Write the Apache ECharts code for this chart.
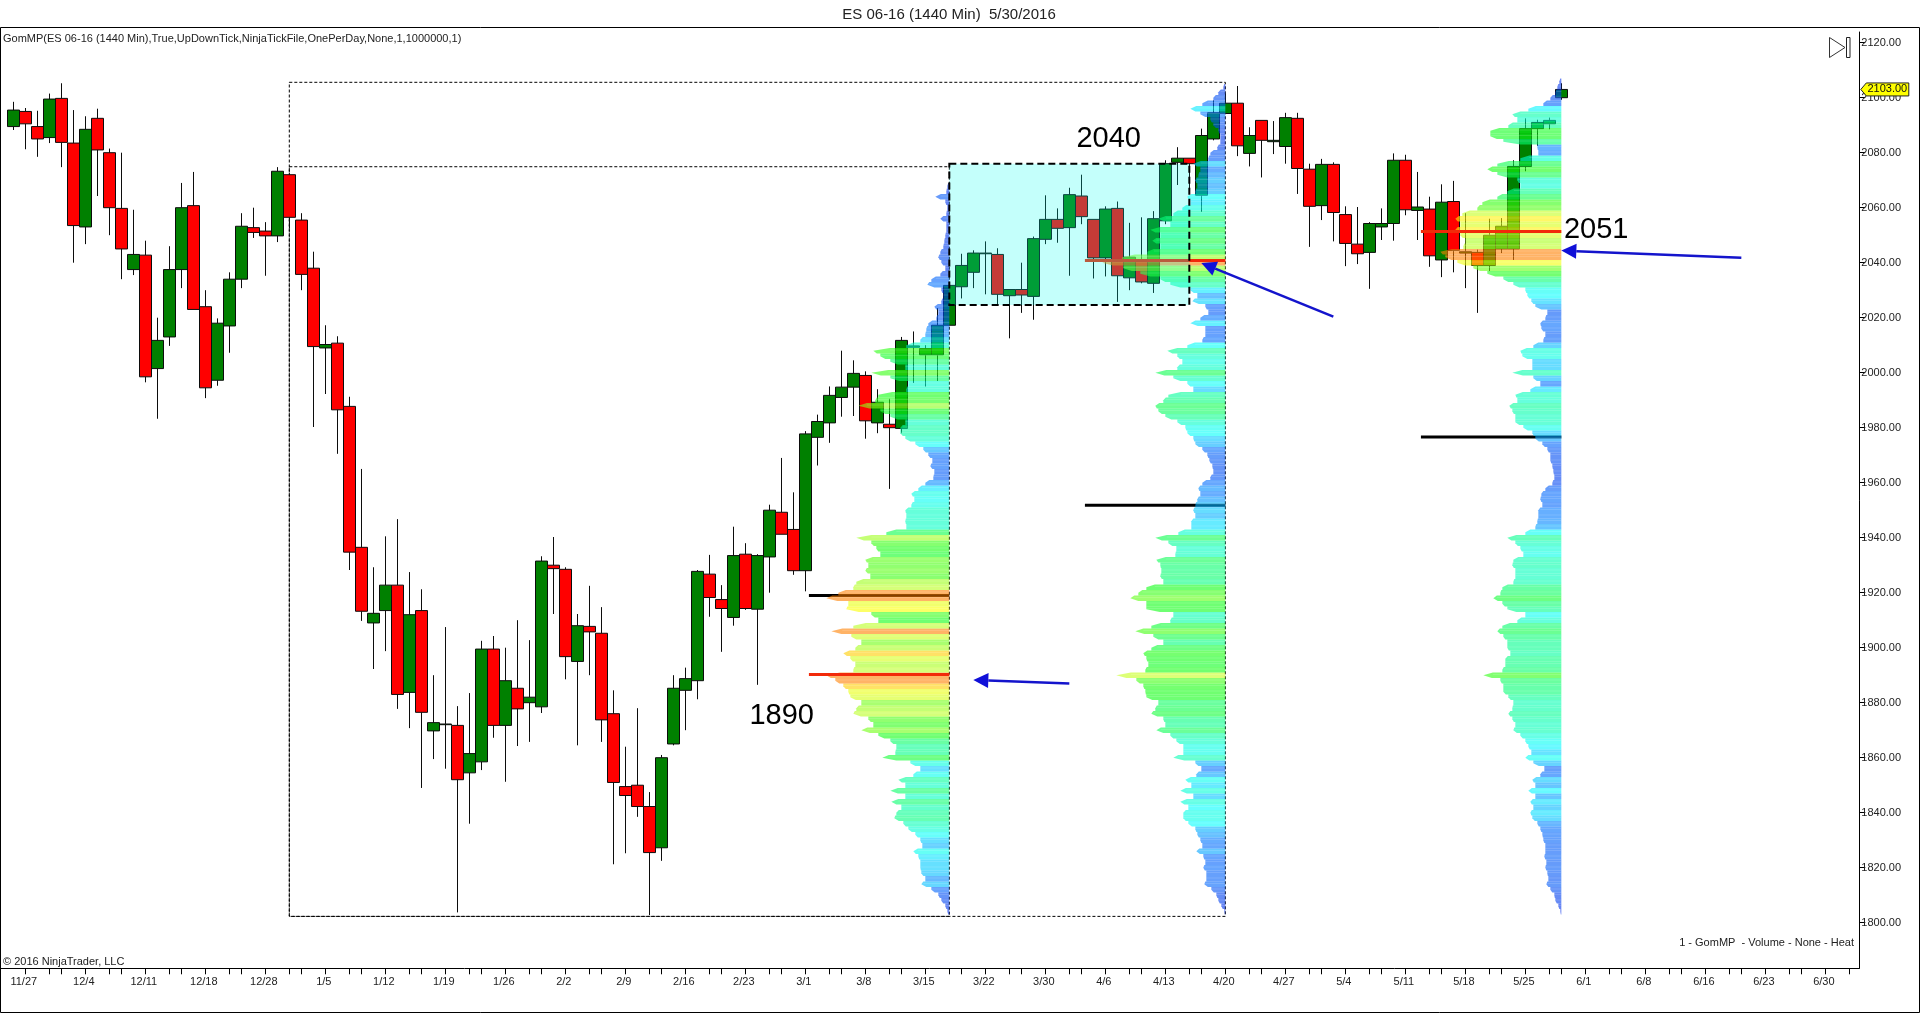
<!DOCTYPE html>
<html><head><meta charset="utf-8">
<script src="https://cdn.jsdelivr.net/npm/echarts@6/dist/echarts.min.js"></script>
<style>html,body{margin:0;padding:0;background:#fff}#c{width:1920px;height:1014px}</style>
</head><body><div id="c"></div>
<script>
// candle rows: [open, close, low, high]; the position in the list is the bar number
const candles = [
[2089.5,2095.5,2088.25,2098.5],[2095,2090.5,2081.25,2096.25],[2089.5,2085,2078.5,2095.25],[2085.5,2099.5,2083.5,2101.5],[2099.75,2083.75,2074.75,2105.25],
[2083.5,2053.5,2040,2095.5],[2053,2088.5,2046.75,2093.25],[2092.5,2081,2064.25,2096],[2080,2060,2050,2081.5],[2059.75,2045,2034,2080],
[2037.5,2043,2035.5,2059.25],[2042.75,1998.5,1996.5,2048],[2001.5,2011.75,1983.25,2020],[2013,2037.5,2009.75,2046],[2037.5,2060,2030.75,2069],
[2060.75,2023,2023,2073],[2024,1994.5,1990.75,2030],[1997.25,2018,1995.25,2019.75],[2017,2034,2007.25,2036.5],[2034,2053.25,2030.75,2058],
[2052.75,2051,2049,2060],[2051.5,2049.75,2035.25,2054.75],[2049.75,2073.25,2047.5,2074.75],[2072,2056.5,2052.5,2072.5],[2055.5,2035.75,2030,2058],
[2038,2009.5,1980.25,2044],[2009,2010.25,1992.25,2017.25],[2010.75,1986.5,1970.5,2013.25],[1987.75,1934.75,1928.25,1991.25],[1936.5,1913.25,1909.75,1965],
[1909,1912.5,1892.25,1929.25],[1913.5,1922.75,1898.75,1940.5],[1922.75,1883,1877.75,1946.75],[1883.75,1912,1870.75,1927.5],[1913.5,1876.5,1849,1921.25],
[1869.75,1872.75,1859.5,1890],[1872,1872.25,1856,1907.5],[1871.75,1852,1803.75,1878.75],[1854.5,1861.5,1836,1883.5],[1858.5,1899.5,1855.5,1902.5],
[1899.5,1871.75,1867.25,1904.25],[1871.75,1888,1851.25,1900],[1885.25,1877.75,1864.25,1910],[1880,1882,1865.75,1902.75],[1878.5,1931.5,1876.25,1933.25],
[1930,1928.75,1912.25,1940.25],[1928.5,1896.75,1888.5,1929.25],[1895,1908,1864.5,1912.25],[1907.75,1905.75,1890,1922.5],[1905.25,1873.75,1865.75,1914.75],
[1876,1851,1821.25,1884.5],[1849.5,1846.25,1825.25,1864],[1850,1842.25,1838.5,1878],[1842.25,1825.5,1802.75,1847.5],[1827.25,1860,1822.5,1861],
[1865,1885.25,1864.5,1890],[1884.5,1888.75,1870,1892.75],[1888,1927.75,1881.25,1928.25],[1926.75,1918.25,1911.25,1933.75],[1917.5,1914.25,1898.5,1922.75],
[1911,1933.5,1908,1944],[1934,1914.25,1913.75,1938],[1914,1933.5,1886.5,1934],[1933,1950,1920,1952],[1949.25,1941.25,1941.25,1969],
[1943,1928,1926.5,1956.5],[1928,1977.75,1920.5,1978.75],[1976.5,1982.25,1966.25,1984.75],[1981.75,1991.75,1974.5,1995],[1991,1994.75,1984,2008],
[1994.75,1999.75,1984.25,2004.5],[1999,1982.5,1976,2000.5],[1981.75,1989.25,1978,1994],[1981.25,1980,1957.75,1990.5],[1979.75,2011.75,1978,2013],
[2009.25,2009.75,1996.25,2015],[2006.5,2008.75,1995,2010],[2006.5,2017.25,1997,2023.5],[2017.25,2031.75,2017.25,2032.5],[2031.25,2039,2027,2043.25],
[2036.5,2043.5,2030.75,2044.5],[2043.25,2043.5,2028.5,2047.75],[2043,2028.5,2024.5,2045.25],[2028,2030.25,2012.5,2030.25],[2030.25,2028.25,2021.75,2040],
[2027.75,2048.75,2019.25,2049.5],[2048.5,2055.75,2046.75,2064.5],[2055.75,2052.5,2047.25,2059.75],[2052.75,2064.75,2035.25,2067.25],[2064.25,2056.75,2054,2072],
[2055.75,2041.75,2034.25,2055.75],[2041.75,2059.5,2035,2060.5],[2059.75,2035.25,2025.75,2062.25],[2034.5,2042,2030,2054.5],[2041,2033,2032.5,2056.5],
[2032.5,2056,2029,2058.75],[2055.25,2076,2054,2077.25],[2076.5,2078,2068.25,2082],[2078,2076,2066.5,2078],[2064.5,2086.25,2058.5,2088.75],
[2085,2094.5,2084.5,2099],[2094.25,2098,2094.25,2101.5],[2098,2082.5,2078.75,2104.25],[2079.75,2086.25,2075,2089.25],[2091.75,2084.5,2071,2091.75],
[2084,2084.5,2079.5,2091.5],[2082.25,2092.75,2076,2094.5],[2092.5,2074.25,2065,2094.5],[2074,2060.5,2045.75,2076],[2060.75,2075.75,2055.5,2077.75],
[2075.75,2058.25,2047.75,2076.5],[2057.5,2047,2038.75,2060.5],[2046.75,2043.25,2039.5,2060.25],[2043.75,2054.25,2030.5,2054.75],[2053,2054.25,2048.25,2059.75],
[2054.25,2077.25,2048,2079.75],[2077.25,2059.25,2057.25,2079.25],[2059,2060.25,2048.25,2073],[2059.5,2042.5,2038.5,2064],[2041,2062,2034.75,2068.5],
[2062.25,2044.5,2036.5,2069.75],[2043.5,2044,2030.75,2058],[2043.75,2039,2021.75,2044.75],[2039,2050,2037,2056],[2045,2053.25,2043.5,2056.25],
[2045,2075,2041,2077.25],[2075,2088.75,2073.25,2092.5],[2088.75,2091,2082.5,2092],[2090.5,2091.75,2088.5,2092.75],[2100,2103,2099.25,2105.25]
];
// date tick labels and the bar number each one sits on
const tickLabels = ['11/27','12/4','12/11','12/18','12/28','1/5','1/12','1/19','1/26','2/2','2/9','2/16','2/23','3/1','3/8','3/15','3/22','3/30','4/6','4/13','4/20','4/27','5/4','5/11','5/18','5/25','6/1','6/8','6/16','6/23','6/30'];
const tickBars = [1,6,11,16,21,26,31,36,41,46,51,56,61,66,71,76,81,86,91,96,101,106,111,116,121,126,131,136,141,146,151];
const priceTicks = [1800,1820,1840,1860,1880,1900,1920,1940,1960,1980,2000,2020,2040,2060,2080,2100,2120];
// volume profiles: one volume per 2-point price level, from profileStart upward
const profileStart = 1804, profileStep = 2;
const profile1 = [2,4,8,11,18,28,24,28,29,29,31,36,27,29,34,41,46,55,53,48,58,44,59,44,51,36,29,39,67,54,53,59,71,88,76,81,96,93,88,99,101,106,114,123,96,94,99,106,94,88,98,118,96,71,78,103,101,123,111,96,93,79,84,81,84,69,73,78,93,63,43,44,43,44,38,35,38,31,24,16,15,19,17,21,26,34,44,49,49,44,59,69,91,74,71,43,41,59,78,44,59,69,76,43,29,24,23,21,13,11,15,8,6,8,22,18,9,4,8,11,9,6,5,4,3,3,9,3,2,4,14,3,2];
const profile2 = [1,4,7,9,14,21,19,19,22,20,22,29,23,25,28,30,37,42,42,37,45,32,45,34,40,29,24,30,52,42,42,49,55,69,60,62,74,70,67,79,80,82,89,109,80,77,79,82,74,62,72,90,74,55,52,79,79,95,87,79,62,65,64,65,69,50,49,57,70,47,34,34,30,32,30,28,25,27,23,15,12,13,16,18,23,30,32,38,40,48,60,67,70,62,57,32,38,52,70,48,43,48,58,38,23,20,20,35,25,17,20,33,28,35,55,65,85,102,123,103,78,65,73,65,75,55,67,52,43,35,38,30,28,30,27,25,32,17,15,8,5,5,7,12,15,25,35,23,12,7,2];
const profile3 = [1,3,6,7,11,15,13,14,16,15,17,16,16,18,19,21,24,29,31,28,31,26,33,26,29,21,17,28,36,30,33,36,41,48,46,49,53,49,48,53,58,58,61,78,59,56,56,51,54,54,58,64,59,44,36,54,59,68,61,59,48,46,46,49,48,38,41,46,54,36,26,24,23,23,19,21,20,16,9,7,8,9,11,11,14,19,26,29,38,46,46,49,52,44,46,31,21,28,49,29,29,39,41,28,18,16,20,21,16,14,26,30,34,36,48,58,74,88,104,116,121,98,96,101,106,101,106,99,84,79,64,54,41,44,64,74,64,41,23,24,58,71,71,53,44,49,33,18,11,6,4,2];
const profileEdges = [78,101,129];
const profileHeatMax = [110,123,112];
// key level lines: [from bar, to bar, price]
const blackLevels = [[66.3,78,1919],[89.3,101,1951.8],[117.3,129,1976.6]];
const redLevels = [[66.3,78,1890.3],[89.3,101,2040.8],[117.3,129,2051.3]];
// dashed outlines: [from bar, to bar, low price, high price]
const thinBoxes = [[23,78,1802.3,2074.9],[23,101,1802.3,2105.6]];
const highlightBox = [[78,98,2024.6,2076]];
// arrows: [tail bar, tail price, tip bar, tip price]
const arrows = [[88,1887,80,1888.25],[110,2020.4,99,2039.9],[144,2041.8,129,2044.4]];
// big notes: [bar, price, text]
const notes = [[91.28,2085,'2040'],[64.03,1875,'1890'],[131.9,2052,'2051']];
const lastPrice = 2103;

const FONT = '"Liberation Sans",Arial,sans-serif';
const heatStops = [[0,[0,40,232]],[0.2,[0,113,255]],[0.3,[0,255,255]],[0.48,[0,255,144]],[0.65,[16,255,16]],[0.8,[112,255,16]],[0.88,[192,255,32]],[0.94,[255,255,0]],[1,[255,128,0]]];
function heat(t){
  t=Math.min(1,Math.max(0,t));
  for(let i=1;i<heatStops.length;i++){
    if(t<=heatStops[i][0]){
      const a=heatStops[i-1],b=heatStops[i],k=(t-a[0])/(b[0]-a[0]);
      const c=a[1].map((v,j)=>Math.round(v+(b[1][j]-v)*k));
      return 'rgb('+c.join(',')+')';
    }
  }
  return 'rgb(255,128,0)';
}
const volPerBar = 12; // profile volume units per bar width

function profileSeries(list,edge,heatMax){
  return {
    type:'custom',z:4,silent:true,clip:true,
    data:list.map((v,i)=>[profileStart+i*profileStep,v]),
    encode:{x:[],y:0},
    renderItem(p,api){
      const i=p.dataIndex,price=api.value(0),vol=api.value(1);
      const below=i>0?list[i-1]:0,above=i<list.length-1?list[i+1]:0;
      const xAt=v=>api.coord([edge-v/volPerBar,price])[0];
      const yTop=api.coord([edge,price+profileStep/2])[1],yMid=api.coord([edge,price])[1],yBot=api.coord([edge,price-profileStep/2])[1];
      const xr=xAt(0);
      const pts=[[xr,yTop],[xAt(Math.min(vol,(vol+above)/2)),yTop],[xAt(vol),yMid],[xAt(Math.min(vol,(vol+below)/2)),yBot],[xr,yBot]];
      const inner=xAt(Math.min(vol,(vol+above)/2));
      return {type:'group',children:[
        {type:'polygon',shape:{points:pts},style:{fill:heat(vol/heatMax),opacity:0.6}},
        {type:'rect',shape:{x:inner,y:yTop+1.5,width:xr-inner,height:1},style:{fill:'#ffffff',opacity:0.14}}
      ]};
    }
  };
}
function levelSeries(list,color,z){
  return {type:'custom',z,silent:true,clip:true,data:list,encode:{x:[0,1],y:2},
    renderItem(p,api){
      const a=api.coord([api.value(0),api.value(2)]),b=api.coord([api.value(1),api.value(2)]);
      return {type:'line',shape:{x1:a[0],y1:a[1],x2:b[0],y2:b[1]},style:{stroke:color,lineWidth:3}};
    }};
}
function outline(c0,c1,style){
  return {type:'rect',shape:{x:c0[0],y:c1[1],width:c1[0]-c0[0],height:c0[1]-c1[1]},style};
}
const xMin=-1.108,xMax=153.83;
const minorTicks=[];
tickBars.forEach(b=>{minorTicks.push(b,b+2,b+3);});

const option={
  animation:false,backgroundColor:'#ffffff',
  title:{text:'ES 06-16 (1440 Min)  5/30/2016',left:944,top:2,textAlign:'center',textStyle:{fontFamily:FONT,fontSize:15,fontWeight:'normal',color:'#222'}},
  grid:{left:0,right:60.7,top:32,bottom:45.7},
  xAxis:{type:'value',min:xMin,max:xMax,splitLine:{show:false},
    axisLine:{onZero:false,lineStyle:{color:'#000',width:1}},
    axisTick:{customValues:minorTicks.filter(v=>v<xMax),length:6,lineStyle:{color:'#000'}},
    axisLabel:{customValues:tickBars,margin:8,color:'#222',fontFamily:FONT,fontSize:11,padding:[0,3,0,0],
      formatter:v=>tickLabels[tickBars.indexOf(v)]||''}},
  yAxis:{type:'value',position:'right',min:1783.42,max:2123.89,splitLine:{show:false},
    axisLine:{show:true,onZero:false,lineStyle:{color:'#000',width:1}},
    axisTick:{show:true,customValues:priceTicks,length:6,lineStyle:{color:'#000'}},
    axisLabel:{customValues:priceTicks,margin:2,color:'#222',fontFamily:FONT,fontSize:11,
      formatter:v=>v.toFixed(2)}},
  series:[
    {type:'custom',z:1,silent:true,clip:true,data:thinBoxes,encode:{x:[0,1],y:[2,3]},
      renderItem(p,api){
        return outline(api.coord([api.value(0),api.value(2)]),api.coord([api.value(1),api.value(3)]),
          {fill:null,stroke:'#000',lineWidth:1,lineDash:[3,2]});
      }},
    {type:'candlestick',z:2,silent:true,barWidth:12,
      data:candles.map((c,i)=>[i,c[0],c[1],c[2],c[3]]),
      encode:{x:0,y:[1,2,3,4]},
      itemStyle:{color:'#008000',color0:'#ff0000',borderColor:'#0c0c0c',borderColor0:'#0c0c0c',borderColorDoji:'#0c0c0c',borderWidth:1}},
    levelSeries(blackLevels,'#000000',3),
    profileSeries(profile1,profileEdges[0],profileHeatMax[0]),
    profileSeries(profile2,profileEdges[1],profileHeatMax[1]),
    profileSeries(profile3,profileEdges[2],profileHeatMax[2]),
    levelSeries(redLevels,'#f22a0a',5),
    {type:'custom',z:6,silent:true,clip:true,data:highlightBox,encode:{x:[0,1],y:[2,3]},
      renderItem(p,api){
        const c0=api.coord([api.value(0),api.value(2)]),c1=api.coord([api.value(1),api.value(3)]);
        return {type:'group',children:[
          outline(c0,c1,{fill:'rgba(0,255,238,0.23)',stroke:null}),
          outline(c0,c1,{fill:null,stroke:'#000',lineWidth:2,lineDash:[7,4]})
        ]};
      }},
    {type:'custom',z:7,silent:true,clip:false,data:arrows,encode:{x:[0,2],y:[1,3]},
      renderItem(p,api){
        const t=api.coord([api.value(0),api.value(1)]),h=api.coord([api.value(2),api.value(3)]);
        const dx=h[0]-t[0],dy=h[1]-t[1],len=Math.hypot(dx,dy),ux=dx/len,uy=dy/len;
        const bx=h[0]-ux*15,by=h[1]-uy*15;
        return {type:'group',children:[
          {type:'line',shape:{x1:t[0],y1:t[1],x2:bx,y2:by},style:{stroke:'#1414cc',lineWidth:2.5}},
          {type:'polygon',shape:{points:[h,[bx-uy*7.5,by+ux*7.5],[bx+uy*7.5,by-ux*7.5]]},style:{fill:'#1010d8'}}
        ]};
      }},
    {type:'custom',z:8,silent:true,clip:false,data:notes.map(n=>n.slice(0,2)),encode:{x:0,y:1},
      renderItem(p,api){
        const c=api.coord([api.value(0),api.value(1)]);
        return {type:'text',style:{x:c[0],y:c[1],text:notes[p.dataIndex][2],fill:'#000',font:'29px '+FONT,textAlign:'center',textVerticalAlign:'middle'}};
      }},
    {type:'custom',z:9,silent:true,clip:false,data:[[xMax,lastPrice]],encode:{x:0,y:1},
      renderItem(p,api){
        const c=api.coord([api.value(0),api.value(1)]);
        const x=c[0],y=c[1];
        return {type:'group',children:[
          {type:'polygon',shape:{points:[[x+1.5,y],[x+7,y-6.5],[x+49.5,y-6.5],[x+49.5,y+6.5],[x+7,y+6.5]]},style:{fill:'#ffff00',stroke:'#222',lineWidth:1}},
          {type:'text',style:{x:x+28,y:y,text:lastPrice.toFixed(2),fill:'#111',font:'11px '+FONT,textAlign:'center',textVerticalAlign:'middle'}}
        ]};
      }}
  ],
  graphic:[
    {type:'rect',silent:true,shape:{x:0.5,y:27.5,width:1919,height:985},style:{fill:null,stroke:'#000',lineWidth:1}},
    {type:'text',silent:true,x:3,y:33,style:{text:'GomMP(ES 06-16 (1440 Min),True,UpDownTick,NinjaTickFile,OnePerDay,None,1,1000000,1)',fill:'#222',font:'11px '+FONT}},
    {type:'text',silent:true,x:3,y:956,style:{text:'© 2016 NinjaTrader, LLC',fill:'#222',font:'11px '+FONT}},
    {type:'text',silent:true,x:1854,y:937,style:{text:'1 - GomMP  - Volume - None - Heat',fill:'#222',font:'11px '+FONT,textAlign:'right'}},
    {type:'polygon',silent:true,shape:{points:[[1829.5,37.5],[1845,47.5],[1829.5,57.5]]},style:{fill:null,stroke:'#333',lineWidth:1}},
    {type:'rect',silent:true,shape:{x:1846.5,y:37.5,width:3.5,height:20},style:{fill:null,stroke:'#222',lineWidth:1}}
  ]
};
const chart=echarts.init(document.getElementById('c'),null,{renderer:'canvas'});
chart.setOption(option);
</script></body></html>
